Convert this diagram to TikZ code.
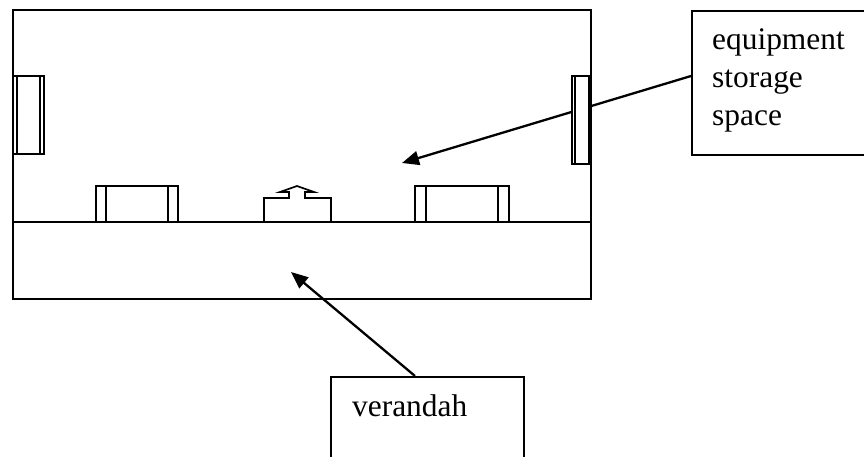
\documentclass[tikz,border=0pt]{standalone}
\usepackage{fontspec}
\setmainfont{Liberation Serif}
\usetikzlibrary{arrows.meta}
\tikzset{
  wall/.style={draw=black,line width=1.8pt},
  thin part/.style={draw=black,line width=1.4pt},
  door part/.style={draw=black,line width=1.7pt},
  leader/.style={draw=black,line width=2.3pt,-{Triangle[length=17pt,width=14pt]}},
  labelbox/.style={draw=black,line width=1.6pt,fill=white,inner sep=0pt},
  labeltext/.style={anchor=base west,inner sep=0pt,font=\fontsize{31.4}{38}\selectfont}
}
\begin{document}
\begin{tikzpicture}[x=1pt,y=-1pt]
\useasboundingbox (0,0) rectangle (864,456);
\clip (0,0) rectangle (864,456);
\fill[white] (0,0) rectangle (864,456);
% building
\draw[wall] (13,10) rectangle (591,299);
\draw[wall] (13,222) -- (591,222);
% label boxes
\node[labelbox,anchor=north west,minimum width=200pt,minimum height=144pt] (eq) at (691,10) {};
\node[labelbox,anchor=north west,minimum width=193pt,minimum height=100pt] (ve) at (330,376) {};
\node[labeltext] (eqa) at (712,49) {equipment};
\node[labeltext] (eqb) at (712,87) {storage};
\node[labeltext] (eqc) at (712,125) {space};
\node[labeltext] (vetext) at (352,416) {verandah};
% leaders
\coordinate (eqstart) at (691,76);
\coordinate (eqtip) at (402,163);
\coordinate (vestart) at (415,376);
\coordinate (vetip) at (291,272);
\draw[leader] (eqstart) -- (eqtip);
\draw[leader] (vestart) -- (vetip);
% windows
\draw[thin part,fill=white] (13,76) rectangle (44,154);
\draw[thin part] (17,76) -- (17,154) (40,76) -- (40,154);
\draw[thin part,fill=white] (572,76) rectangle (591,164);
\draw[thin part] (575,76) -- (575,164) (589,76) -- (589,164);
\draw[thin part] (96,222) -- (96,186) -- (178,186) -- (178,222) (106,186) -- (106,222) (168,186) -- (168,222);
\draw[thin part] (415,222) -- (415,186) -- (509,186) -- (509,222) (426,186) -- (426,222) (498,186) -- (498,222);
% door
\draw[door part] (264,222) -- (264,198) -- (289,198) -- (289,192) -- (280,192) -- (297,186) -- (314,192) -- (305,192) -- (305,198) -- (331,198) -- (331,222);
\end{tikzpicture}
\end{document}
